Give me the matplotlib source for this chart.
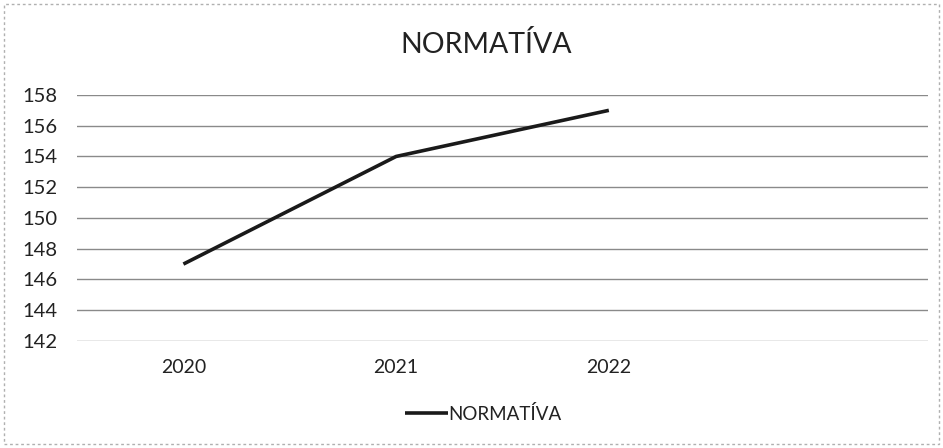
import matplotlib
matplotlib.use("Agg")
import matplotlib.pyplot as plt
from matplotlib.patches import Rectangle

plt.rcParams['font.family'] = ['Lato', 'DejaVu Sans']

categories = ["2020", "2021", "2022"]
values = [147, 154, 157]
yticks = [142, 144, 146, 148, 150, 152, 154, 156, 158]
series_name = "NORMATÍVA"
title = "NORMATÍVA"

fig = plt.figure(figsize=(9.43, 4.48), dpi=100)
ax = fig.add_axes([0.0817, 0.239, 0.9023, 0.549])

x = list(range(len(categories)))
ax.plot(x, values, color="#1a1a1a", lw=2.6, label=series_name, solid_capstyle="butt")

ax.set_xlim(-0.5, 3.5)
ax.set_ylim(yticks[0], yticks[-1])
ax.set_yticks(yticks)
ax.set_yticklabels([str(v) for v in yticks], fontsize=14.5, color="#222222")
ax.set_xticks(x)
ax.set_xticklabels(categories, fontsize=14, color="#222222")
ax.tick_params(length=0)
ax.tick_params(axis='y', pad=14)
ax.tick_params(axis='x', pad=13)
ax.grid(axis='y', color="#8a8a8a", lw=1.0)
ax.set_axisbelow(True)
for s in ax.spines.values():
    s.set_visible(False)

fig.text(0.515, 0.9, title, ha="center", va="center", fontsize=20.5, color="#222222")

leg = fig.legend(loc="center", bbox_to_anchor=(0.512, 0.076), frameon=False,
                 fontsize=13.5, handlelength=2.3, handletextpad=0.0)
for t in leg.get_texts():
    t.set_color("#222222")

fig.patches.append(Rectangle((0.004, 0.01), 0.992, 0.98, transform=fig.transFigure,
                             fill=False, edgecolor="#b0b0b0", lw=1, ls=(0, (2, 2))))

fig.savefig("out.png", dpi=100)
